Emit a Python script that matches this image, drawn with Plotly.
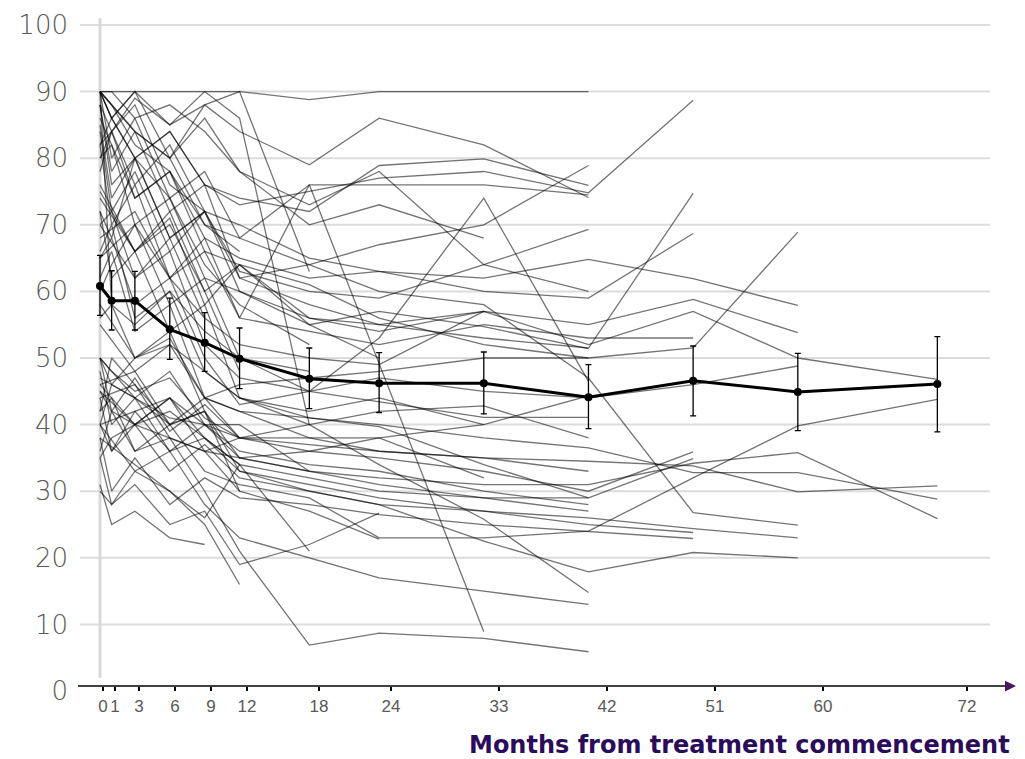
import plotly.graph_objects as go

# Visit times (months) of the data points
months = [0, 1, 3, 6, 9, 12, 18, 24, 33, 42, 51, 60, 72]
N = None

# Individual patient trajectories (one value per visit, None = no visit)
patients = [
    [88, 76, 80, 68, 72, 60, 56, 54, 57, 52, 57, 50, 46.8],
    [45, 42, 36, 40, 33, 31, 29, 23, 23, 24, 32, 39.8, 43.8],
    [50, 46, 44, 41, 40, 38, 37, 36, 35, 34.5, 33.8, 29.9, 30.8],
    [66, 70, 56, 60, 48, 44, 41, 40, 38, 36.5, 32.8, 32.8, 28.8],
    [48, 40, 44, 36, 40, 35, 33, 32, 31, 31, 34.2, 35.8, 25.9],
    [62, 66, 54, 58, 44, 46, 47, 48, 50, 50, 51.5, 68.9, N],
    [88, 84, 76, 82, 72, 70, 65, 63, 62, 64.8, 61.9, 57.9, N],
    [84, 72, 78, 66, 72, 62, 58, 55, 57, 55, 58.8, 53.8, N],
    [65, N, 70, 58, 62, 50, 45, 47, 45, 44, 46, 48.8, N],
    [90, 88, 82, 78, 70, 68, 64, 60, 58, 47, 26.8, 24.9, N],
    [44, 36, 40, 33, 37, 32, 30, 28, 27, 26, 24.4, 23, N],
    [46, N, 48, 40, 42, 33, 30, 28, 22.5, 17.9, 20.8, 20, N],
    [90, 86, 80, 84, 76, 73, 75, 77, 78, 74.8, 88.7, N, N],
    [76, N, 66, 71, 58, 64, 56, 55, 53, 51.5, 74.7, N, N],
    [82, 84, 74, 78, 68, 65, 62, 63, 60, 59, 68.7, N, N],
    [68, N, 72, 62, 66, 56, 54, 52, 55, 53, 53, N, N],
    [50, 42, 47, 39, 43, 38, 36, 35, 33, 30, 35.9, N, N],
    [47, N, 44, 40, 42, 35, 33, 31, 29, 29, 34.9, N, N],
    [40, N, 42, 36, 38, 33, 31, 29, 27, 25, 23.8, N, N],
    [38, 30, 35, 28, 32, 29, 28, 26.5, 25, 24, 22.9, N, N],
    [90, 90, 90, 90, 90, 90, 88.8, 90, 90, 90, N, N, N],
    [88, 78, 84, 72, 76, 62, 64, 67, 70, 78.9, N, N, N],
    [78, 84, 89, 85, 88, 84, 79, 86, 82, 74.1, N, N, N],
    [90, 86, 80, 84, 76, 74, 72, 78.9, 79.9, 75.9, N, N, N],
    [90, 80, 86, 74, 78, 68, 76, 76, 76, 74.5, N, N, N],
    [65, 68, 58, 62, 50, 43, 45, 53, 74, 46.5, N, N, N],
    [85, 74, 80, 68, 72, 63, 60, 59, 64, 69.3, N, N, N],
    [90, 86, 90, 80, 86, 78, 73, 78, 64, 60, N, N, N],
    [74, N, 66, 70, 60, 64, 55, 57, 54.7, 51.4, N, N, N],
    [70, 72, 62, 66, 52, 47, 45, 43.4, 41.1, 41.1, N, N, N],
    [46, N, 40, 44, 36, 38, 40, 42, 42.8, 38, N, N, N],
    [56, 58, 50, 53, 44, 42, 41, 39.7, 34, 29, N, N, N],
    [36, 42, 40, 38, 36, 35, 36, 38, 40, 44.3, N, N, N],
    [72, 62, 66, 54, 58, 44, 40, 34, 25.8, 14.8, N, N, N],
    [40, N, 33, 36, 28, 23, 20, 17, 15, 13, N, N, N],
    [42, 44, 36, 38, 30, 21, 6.9, 8.7, 7.9, 5.9, N, N, N],
    [40, 36, 42, 44, 40, 36, 34, 33, 30, 28, N, N, N],
    [35, 38, 40, 42, 38, 34, 32, 30, 29, 27, N, N, N],
    [50, 48, 45, 47, 41, 38, 38, 36, 35, 33, N, N, N],
    [86, 82, 74, 78, 66, 64, 61, 56, 52, 50, N, N, N],
    [82, 70, 76, 62, 68, 56, 76, N, 8.9, N, N, N, N],
    [90, 90, 86, 88, 84, 78, 70, 73, 68, N, N, N, N],
    [40, 46, 50, 52, 48, 44, 42, 44, 40, N, N, N, N],
    [55, N, 48, 52, 44, 42, 38, 38, 32, N, N, N, N],
    [70, N, 62, 68, 56, 52, 50, 49, 57, N, N, N, N],
    [35, 28, 31, 25, 27, 19, 22, 26.7, N, N, N, N, N],
    [44, N, 46, 38, 36, 30, 27, 22.8, N, N, N, N, N],
    [80, 82, 70, 74, 62, 60, 55, 50, N, N, N, N, N],
    [45, N, 40, 44, 38, 34, 21, N, N, N, N, N, N],
    [50, N, 44, 48, 40, 40, 33, N, N, N, N, N, N],
    [90, N, 84, 80, 88, 90, 63, N, N, N, N, N, N],
    [38, N, 34, 30, 25, 16, N, N, N, N, N, N, N],
    [58, N, 50, 54, 42, 30, N, N, N, N, N, N, N],
    [90, N, 84, 80, 70, 66, N, N, N, N, N, N, N],
    [75, N, 66, 72, 60, 48, N, N, N, N, N, N, N],
    [31, 25, 27, 23, 22, N, N, N, N, N, N, N, N],
    [30, 28, 33, 30, 26, 34, N, N, N, N, N, N, N],
    [90, 58, 55, 60, 54, 50, 48, N, N, N, N, N, N],
    [82, 86, 90, 85, 90, 86, 40, N, N, N, N, N, N],
    [80, 84, 88, 76, 72, N, N, N, N, N, N, N, N],
    [60, 64, 70, 62, 56, N, N, N, N, N, N, N, N],
    [42, 50, 46, 40, 44, 38, N, N, N, N, N, N, N],
    [72, 68, 80, 74, 64, 58, 52, N, N, N, N, N, N],
]

# Mean and confidence interval
mean_vals = [60.8, 58.6, 58.6, 54.3, 52.3, 49.9, 46.9, 46.2, 46.2, 44.1, 46.6, 44.9, 46.1]
ci_low = [56.4, 54.2, 54.2, 49.8, 48.0, 45.4, 42.4, 41.8, 41.6, 39.4, 41.3, 39.1, 38.9]
ci_high = [65.4, 63.1, 63.0, 59.0, 56.8, 54.5, 51.5, 50.8, 50.9, 49.0, 51.8, 50.7, 53.2]

# Axis tick labels
x_ticks = [0, 1, 3, 6, 9, 12, 18, 24, 33, 42, 51, 60, 72]
y_ticks = [0, 10, 20, 30, 40, 50, 60, 70, 80, 90, 100]

fig = go.Figure()

for p in patients:
    fig.add_trace(go.Scatter(
        x=months, y=p, mode="lines", connectgaps=True,
        line=dict(color="rgba(0,0,0,0.55)", width=1.3),
        hoverinfo="skip", showlegend=False))

fig.add_trace(go.Scatter(
    x=months, y=mean_vals, mode="lines+markers",
    line=dict(color="black", width=3),
    marker=dict(color="black", size=8),
    error_y=dict(type="data", symmetric=False,
                 array=[h - m for h, m in zip(ci_high, mean_vals)],
                 arrayminus=[m - l for m, l in zip(mean_vals, ci_low)],
                 color="black", thickness=1.3, width=3),
    showlegend=False))

# invisible trace to activate the label axis
fig.add_trace(go.Scatter(x=[0], y=[None], xaxis="x2", yaxis="y",
                         mode="markers", showlegend=False, hoverinfo="skip"))

L, R, T, B = 80, 35, 10, 59
W, H = 1025, 759
pw, ph = W - L - R, H - T - B

def px2paper_x(px):
    return (px - L) / pw

def px2paper_y(py):
    return (H - B - py) / ph

axis_y = px2paper_y(686)

shapes = []
for v in y_ticks[1:]:
    shapes.append(dict(type="line", xref="paper", yref="y", x0=0, x1=1, y0=v, y1=v,
                       line=dict(color="#dcdcdc", width=2), layer="below"))
shapes.append(dict(type="line", xref="x", yref="y", x0=0, x1=0, y0=2, y1=101,
                   line=dict(color="#d9d9d9", width=3), layer="below"))
shapes.append(dict(type="line", xref="paper", yref="paper",
                   x0=px2paper_x(78), x1=px2paper_x(1007), y0=axis_y, y1=axis_y,
                   line=dict(color="black", width=1.5)))
tri = "M {0},{1} L {2},{3} L {0},{4} Z".format(
    px2paper_x(1005), px2paper_y(680.5), px2paper_x(1016), px2paper_y(686), px2paper_y(691.5))
shapes.append(dict(type="path", xref="paper", yref="paper", path=tri,
                   fillcolor="#4b145f", line=dict(color="#4b145f", width=0)))

fig.update_layout(
    width=W, height=H,
    margin=dict(l=L, r=R, t=T, b=B),
    paper_bgcolor="white", plot_bgcolor="white",
    shapes=shapes,
    xaxis=dict(range=[(L - 100) / 11.63, (W - R - 100) / 11.63], visible=False),
    xaxis2=dict(overlaying="x", anchor="free", position=axis_y, side="bottom",
                range=[(L - 103) / 12.0, (W - R - 103) / 12.0],
                tickmode="array", tickvals=x_ticks, ticktext=[str(t) for t in x_ticks],
                ticks="outside", ticklen=4, tickwidth=1.5, tickcolor="black",
                showline=False, showgrid=False, zeroline=False,
                tickfont=dict(family="Liberation Sans", size=17, color="#595959")),
    yaxis=dict(range=[(691 - (H - B)) / 6.71, (691 - T) / 6.71],
               tickmode="array", tickvals=y_ticks,
               showgrid=False, zeroline=False, showline=False, ticks="",
               ticklabelstandoff=11,
               tickfont=dict(family="DejaVu Sans", size=26, color="#585858", weight=300)),
    annotations=[dict(text="<b>Months from treatment commencement</b>",
                      xref="paper", yref="paper", x=px2paper_x(1012), y=px2paper_y(745),
                      xanchor="right", yanchor="middle", showarrow=False,
                      font=dict(family="DejaVu Sans", size=24, color="#2b0c5a"))],
)

fig.write_html("out.html")
